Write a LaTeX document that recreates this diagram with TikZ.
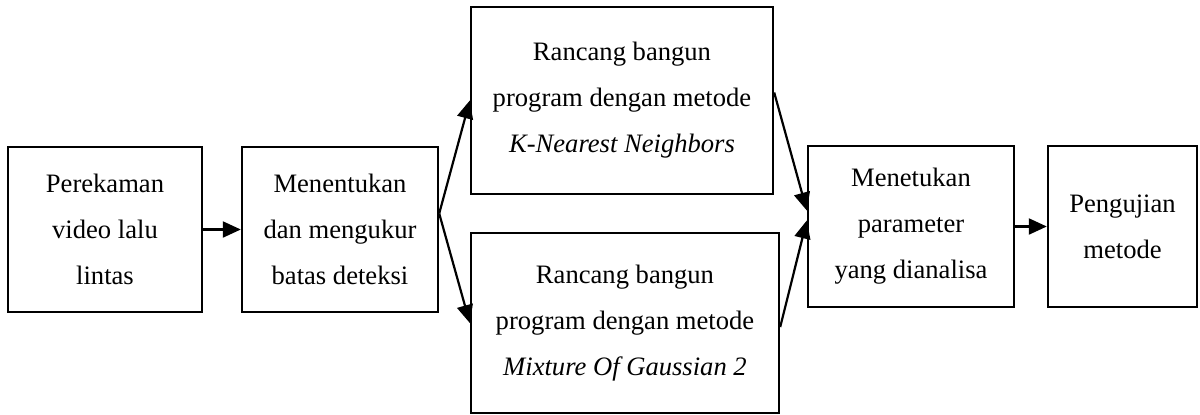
\documentclass[tikz,border=0pt]{standalone}
\usepackage{fontspec}
\setmainfont{Liberation Serif}
\usetikzlibrary{arrows.meta,positioning}
\tikzset{
  flow/.style={-{Triangle[length=9pt,width=8pt]}, line width=1.1pt, draw=black},
  stage/.style={draw=black, line width=1.2pt, align=center, inner sep=2pt,
                font=\fontsize{13.3}{23}\selectfont},
}

\begin{document}
\begin{tikzpicture}
        \useasboundingbox (0,0) rectangle (600pt,207pt);
        \node[stage,minimum width=97pt,minimum height=82.5pt] (rekam) at (52.5pt,92.25pt) {Perekaman\\video lalu\\lintas};
        \node[stage,minimum width=98pt,minimum height=82.5pt] (batas) at (170pt,92.25pt) {Menentukan\\dan mengukur\\batas deteksi};
        \node[stage,minimum width=151pt,minimum height=93.5pt] (knn) at (311pt,156.75pt) {Rancang bangun\\program dengan metode\\\textit{K-Nearest Neighbors}};
        \node[stage,minimum width=154pt,minimum height=90pt] (mog) at (312.5pt,45.5pt) {Rancang bangun\\program dengan metode\\\textit{Mixture Of Gaussian 2}};
        \node[stage,minimum width=103pt,minimum height=80.5pt] (param) at (455.5pt,93.75pt) {Menetukan\\parameter\\yang dianalisa};
        \node[stage,minimum width=74.5pt,minimum height=80.5pt] (uji) at (561.25pt,93.75pt) {Pengujian\\metode};
        % split point on the right side of the second box
        \coordinate (cabang) at ([yshift=8pt]batas.east);
        \draw[flow] (rekam) -- (batas);
        \draw[flow] (cabang) -- (knn.west);
        \draw[flow] (cabang) -- (mog.west);
        \draw[flow] ([yshift=4pt]knn.east) -- ([yshift=8pt]param.west);
        \draw[flow] ([yshift=-2pt]mog.east) -- ([yshift=3pt]param.west);
        \draw[flow] (param) -- (uji);
      \end{tikzpicture}
\end{document}
